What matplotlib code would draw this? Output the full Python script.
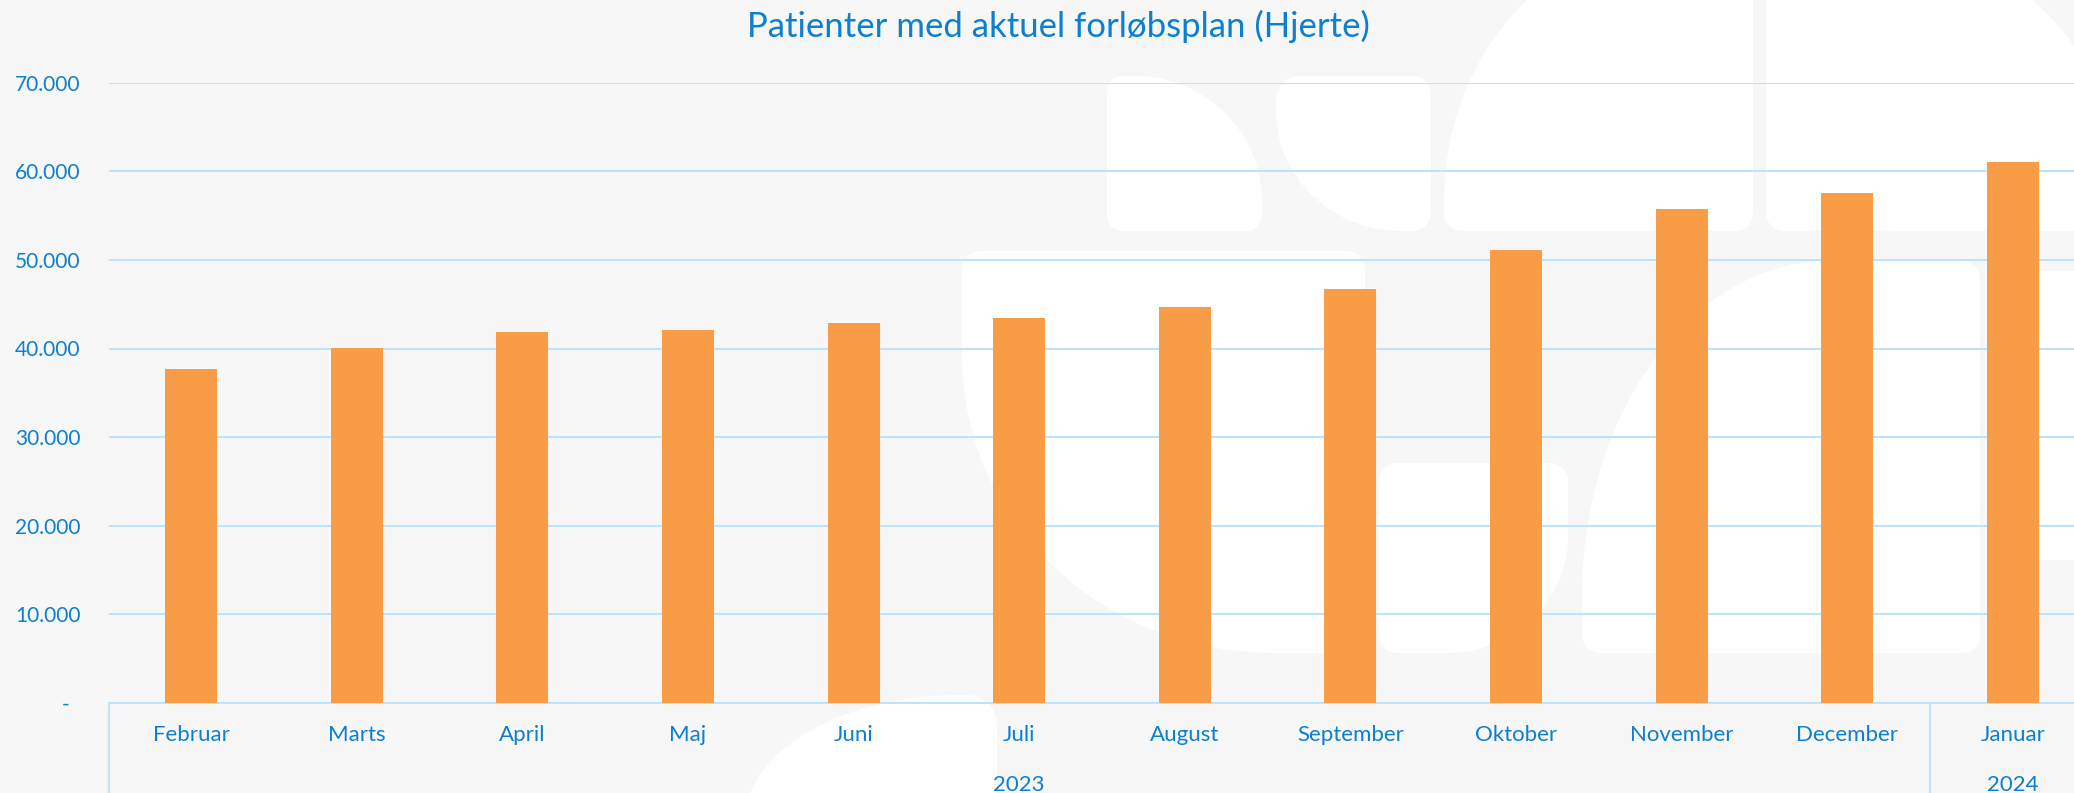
import matplotlib
matplotlib.use("Agg")
import matplotlib.pyplot as plt
from matplotlib.patches import Polygon
import numpy as np

months = ["Februar", "Marts", "April", "Maj", "Juni", "Juli", "August",
          "September", "Oktober", "November", "December", "Januar"]
years = ["2023", "2024"]
year_spans = [(0, 10), (11, 11)]
patients = [37700, 40100, 41900, 42100, 42900, 43400, 44700,
            46700, 51100, 55800, 57600, 61000]
yticks = [0, 10000, 20000, 30000, 40000, 50000, 60000, 70000]

BLUE = "#0B7FD0"
GRID = "#BDE4FA"
ORANGE = "#F99C48"
BG = "#F7F7F7"

plt.rcParams["font.family"] = ["Lato", "DejaVu Sans"]

W, H = 2074, 793
fig = plt.figure(figsize=(W / 100, H / 100), dpi=100, facecolor=BG)

# white watermark shapes behind the chart (pixel coords, y down)
bg = fig.add_axes([0, 0, 1, 1], zorder=-1)
bg.set_xlim(0, W)
bg.set_ylim(H, 0)
bg.axis("off")


def blob(x0, y0, x1, y1, tl=(18, 18), tr=(18, 18), br=(18, 18), bl=(18, 18)):
    pts = []
    corners = [((x0 + tl[0], y0 + tl[1]), tl, 180, 270),
               ((x1 - tr[0], y0 + tr[1]), tr, 270, 360),
               ((x1 - br[0], y1 - br[1]), br, 0, 90),
               ((x0 + bl[0], y1 - bl[1]), bl, 90, 180)]
    for (cx, cy), (rx, ry), a0, a1 in corners:
        t = np.radians(np.linspace(a0, a1, 30))
        pts += list(zip(cx + rx * np.cos(t), cy + ry * np.sin(t)))
    bg.add_patch(Polygon(pts, closed=True, facecolor="white", edgecolor="none"))


blob(1107, 76, 1262, 231, tr=(127, 125), br=(15, 15), bl=(15, 15), tl=(15, 15))
blob(1276, 76, 1431, 231, tl=(25, 22), bl=(125, 120))
blob(1444, -60, 1753, 231, tl=(230, 260))
blob(1766, -60, 2120, 231, tr=(250, 250))
blob(962, 251, 1365, 653, bl=(311, 296))
blob(1379, 463, 1568, 653, br=(120, 117))
blob(1582, 261, 1980, 653, tl=(247, 335))
blob(1988, 271, 2140, 560)
blob(745, 695, 997, 1000, tl=(215, 126), tr=(30, 30))

# main chart
ax = fig.add_axes([108.5 / W, (H - 702.9) / H, 1987 / W, 620.2 / H])
ax.set_facecolor("none")
x = np.arange(len(months))
ax.bar(x, patients, width=0.314, color=ORANGE, zorder=3)
ax.set_xlim(-0.5, len(months) - 0.5)
ax.set_ylim(0, 70000)
ax.set_yticks(yticks)
ax.set_yticklabels([f"{v:,.0f}".replace(",", ".") if v else "-  " for v in yticks])
ax.yaxis.grid(True, color=GRID, linewidth=1.5, zorder=1)
ax.tick_params(axis="y", length=0, pad=20, labelsize=15, labelcolor=BLUE)
ax.set_xticks([])
for s in ["top", "right", "left"]:
    ax.spines[s].set_visible(False)
ax.spines["bottom"].set_color(GRID)
ax.spines["bottom"].set_linewidth(1.5)

xt = ax.get_xaxis_transform()
for i, m in enumerate(months):
    ax.text(i, -0.052, m, transform=xt, ha="center", va="center",
            fontsize=16, color=BLUE)
for yr, (a, b) in zip(years, year_spans):
    ax.text((a + b) / 2, -0.132, yr, transform=xt, ha="center", va="center",
            fontsize=16, color=BLUE)
for sep in [-0.5, 10.5]:
    ax.plot([sep, sep], [0, -0.2], transform=xt, color=GRID, linewidth=1.5,
            clip_on=False)

fig.text(1058 / W, 1 - 26 / H, "Patienter med aktuel forløbsplan (Hjerte)",
         ha="center", va="center", fontsize=25, color=BLUE)

fig.savefig("out.png", dpi=100, facecolor=BG)
